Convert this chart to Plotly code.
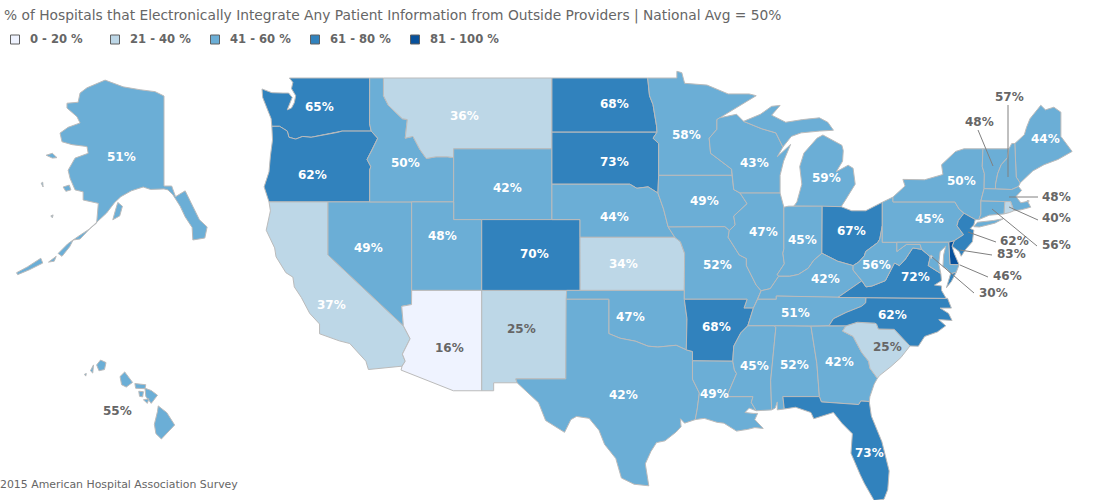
import plotly.graph_objects as go

WIDTH = 1112
HEIGHT = 500

TITLE = "% of Hospitals that Electronically Integrate Any Patient Information from Outside Providers | National Avg = 50%"
CREDIT = "2015 American Hospital Association Survey"

# legend bins
bin_labels = ["0 - 20 %", "21 - 40 %", "41 - 60 %", "61 - 80 %", "81 - 100 %"]
bin_tops = [20, 40, 60, 80, 100]
bin_colors = ["#EFF3FF", "#BDD7E7", "#6BAED6", "#3182BD", "#08519C"]
legend_left = [10.5, 110.5, 210.5, 310.5, 410.5]

states = ["WA", "OR", "CA", "NV", "ID", "MT", "WY", "UT", "AZ", "NM", "CO", "ND", "SD", "NE", "KS", "OK", "TX",
          "MN", "IA", "MO", "AR", "LA", "WI", "IL", "MI", "IN", "OH", "KY", "TN", "MS", "AL", "GA", "FL", "SC",
          "NC", "VA", "WV", "PA", "NY", "ME", "VT", "NH", "MA", "RI", "CT", "NJ", "DE", "MD", "DC", "AK", "HI"]
values = [65, 62, 37, 49, 50, 36, 42, 48, 16, 25, 70, 68, 73, 44, 34, 47, 42,
          58, 49, 52, 68, 49, 43, 47, 59, 45, 67, 42, 51, 45, 52, 42, 73, 25,
          62, 72, 56, 45, 50, 44, 48, 57, 48, 40, 56, 62, 83, 46, 30, 51, 55]

# where each state's label sits on the page
label_x = [319, 312, 331, 368, 405, 464, 507, 442, 449, 521, 534, 614, 614, 614, 623, 630, 623,
           686, 704, 717, 716, 714, 754, 763, 826, 802, 851, 825, 795, 754, 794, 839, 869, 887,
           892, 915, 876, 929, 961, 1045, 979, 1009, 1056, 1056, 1056, 1014, 1011, 1007, 993, 121, 117]
label_y = [107, 175, 305, 248, 163, 116, 188, 236, 348, 329, 254, 104, 162, 217, 264, 317, 395,
           135, 201, 265, 327, 394, 163, 232, 178, 240, 231, 279, 313, 366, 365, 362, 453, 347,
           315, 277, 265, 219, 181, 139, 122, 97, 197, 218, 245, 241, 254, 276, 293, 157, 411]
outside_labels = ["VT", "NH", "MA", "RI", "CT", "NJ", "DE", "MD", "DC", "HI"]

# x0, y0, x1, y1 of the connector lines for the small eastern states
leader_lines = [
    (1008, 105, 1008, 177), (978, 130, 993, 166), (1038, 197, 1009, 197), (1038, 220, 1009, 207),
    (1037, 246, 992, 209), (996, 242, 968, 232), (992, 255, 960, 250), (988, 277, 960, 265), (974, 293, 932, 257),
]

# state outlines as lon/lat rings
outlines = {
    "WA": [[(-117.03, 49), (-122.75, 49), (-122.5, 48.75), (-122.6, 48.4), (-122.3, 48), (-122.4, 47.6), (-122.6, 47.3),
            (-122.9, 47.2), (-122.55, 47.9), (-122.8, 48.15), (-123.2, 48.15), (-124, 48.17), (-124.7, 48.38),
            (-124.65, 47.9), (-124.2, 47), (-124.05, 46.7), (-124, 46.27), (-123.45, 46.27), (-123.2, 46.15), (-122.9, 46),
            (-122.78, 45.65), (-122.3, 45.55), (-121.8, 45.7), (-121.2, 45.65), (-120.6, 45.75), (-119.9, 45.85),
            (-119.3, 45.93), (-119, 46), (-116.92, 46), (-117.04, 46.42)]],
    "OR": [[(-124, 46.27), (-123.95, 45.5), (-124.1, 44.6), (-124.2, 43.7), (-124.55, 42.85), (-124.2, 42), (-120, 42),
            (-117.03, 42), (-117.03, 43.8), (-116.95, 44), (-117.22, 44.4), (-116.85, 44.95), (-116.46, 45.6), (-116.92, 46),
            (-119, 46), (-119.3, 45.93), (-119.9, 45.85), (-120.6, 45.75), (-121.2, 45.65), (-121.8, 45.7), (-122.3, 45.55),
            (-122.78, 45.65), (-122.9, 46), (-123.2, 46.15), (-123.45, 46.27)]],
    "CA": [[(-124.2, 42), (-124.1, 41.5), (-124.4, 40.4), (-123.8, 39.4), (-123.7, 38.9), (-123, 38), (-122.5, 37.75),
            (-122.4, 37.2), (-121.9, 36.6), (-121.3, 35.7), (-120.6, 35.1), (-120.6, 34.55), (-119.2, 34.15), (-118.45, 34),
            (-117.3, 33), (-117.12, 32.53), (-114.72, 32.72), (-114.5, 33), (-114.7, 33.4), (-114.15, 34.27), (-114.63, 35),
            (-120, 39), (-120, 42)]],
    "NV": [[(-120, 42), (-120, 39), (-114.63, 35), (-114.75, 36.1), (-114.05, 36.2), (-114.04, 37), (-114.04, 42)]],
    "ID": [[(-117.03, 49), (-116.05, 49), (-116.05, 48), (-115.7, 47.45), (-114.7, 46.7), (-114.35, 46.65), (-114.5, 45.6),
            (-113.95, 45.7), (-113.45, 44.95), (-113, 44.45), (-112.3, 44.55), (-111.5, 44.55), (-111.05, 44.5), (-111.05, 42),
            (-117.03, 42), (-117.03, 43.8), (-116.95, 44), (-117.22, 44.4), (-116.85, 44.95), (-116.46, 45.6), (-116.92, 46),
            (-117.04, 46.42)]],
    "MT": [[(-116.05, 49), (-104.05, 49), (-104.05, 45), (-111.05, 45), (-111.05, 44.5), (-111.5, 44.55), (-112.3, 44.55),
            (-113, 44.45), (-113.45, 44.95), (-113.95, 45.7), (-114.5, 45.6), (-114.35, 46.65), (-114.7, 46.7), (-115.7, 47.45),
            (-116.05, 48)]],
    "WY": [[(-111.05, 45), (-111.05, 41), (-104.05, 41), (-104.05, 45)]],
    "UT": [[(-114.04, 42), (-114.04, 37), (-109.05, 37), (-109.05, 41), (-111.05, 41), (-111.05, 42)]],
    "AZ": [[(-114.04, 37), (-114.05, 36.2), (-114.75, 36.1), (-114.63, 35), (-114.15, 34.27), (-114.7, 33.4), (-114.5, 33),
            (-114.72, 32.72), (-114.8, 32.5), (-111.07, 31.33), (-109.05, 31.33), (-109.05, 37)]],
    "NM": [[(-109.05, 37), (-109.05, 31.33), (-108.2, 31.33), (-108.2, 31.78), (-106.53, 31.78), (-106.62, 32),
            (-103.06, 32), (-103, 37)]],
    "CO": [[(-109.05, 41), (-109.05, 37), (-102.04, 37), (-102.05, 41)]],
    "ND": [[(-104.05, 49), (-97.23, 49), (-97.1, 48), (-96.85, 47.5), (-96.6, 46.3), (-96.56, 45.94), (-104.05, 45.94)]],
    "SD": [[(-104.05, 45.94), (-96.56, 45.94), (-96.85, 45.6), (-96.45, 45.3), (-96.45, 43.5), (-96.5, 42.5), (-97.2, 42.85),
            (-98, 42.77), (-98.5, 43), (-104.05, 43)]],
    "NE": [[(-104.05, 43), (-98.5, 43), (-98, 42.77), (-97.2, 42.85), (-96.5, 42.5), (-96.1, 41.6), (-95.77, 40.58), (-95.3, 40),
            (-102.05, 40), (-102.05, 41), (-104.05, 41)]],
    "KS": [[(-102.05, 40), (-95.3, 40), (-94.9, 39.75), (-94.6, 39.1), (-94.62, 37), (-102.04, 37)]],
    "OK": [[(-103, 37), (-94.62, 37), (-94.62, 36.5), (-94.43, 35.4), (-94.48, 33.64), (-95.2, 33.9), (-96.5, 33.8), (-97.2, 33.85),
            (-98.1, 34.13), (-99.2, 34.3), (-100, 34.56), (-100, 36.5), (-103.04, 36.5)]],
    "TX": [[(-103.04, 36.5), (-100, 36.5), (-100, 34.56), (-99.2, 34.3), (-98.1, 34.13), (-97.2, 33.85), (-96.5, 33.8), (-95.2, 33.9),
            (-94.48, 33.64), (-94.04, 33.55), (-94.04, 31.99), (-93.55, 31.2), (-93.7, 30.3), (-93.84, 29.7), (-94.6, 29.5), (-94.9, 29.75), (-94.85, 29.3),
            (-95.2, 29), (-96, 28.5), (-96.6, 28.4), (-97, 27.9), (-97.4, 27.2), (-97.15, 25.96), (-98.2, 26.05), (-99.1, 26.4), (-99.5, 27.5),
            (-100.3, 28.3), (-100.7, 29.1), (-101.4, 29.77), (-102.3, 29.88), (-102.7, 29.7), (-103.15, 28.98), (-104.5, 29.65),
            (-105, 30.65), (-106.53, 31.78), (-106.62, 32), (-103.06, 32)]],
    "MN": [[(-97.23, 49), (-95.15, 49), (-95.15, 49.38), (-94.8, 49.3), (-94.6, 48.7), (-93, 48.6), (-91.5, 48.1), (-90, 48.1),
            (-89.5, 48), (-92.1, 46.75), (-92.3, 46.65), (-92.3, 46.1), (-92.85, 45.6), (-92.75, 44.75), (-91.25, 43.85), (-91.22, 43.5),
            (-96.45, 43.5), (-96.45, 45.3), (-96.85, 45.6), (-96.56, 45.94), (-96.6, 46.3), (-96.85, 47.5), (-97.1, 48)]],
    "IA": [[(-96.45, 43.5), (-91.22, 43.5), (-91.1, 42.7), (-90.65, 42.5), (-90.15, 41.9), (-91.1, 41.2), (-91, 40.7), (-91.42, 40.38),
            (-91.73, 40.6), (-95.77, 40.58), (-96.1, 41.6), (-96.5, 42.5)]],
    "MO": [[(-95.77, 40.58), (-91.73, 40.6), (-91.42, 40.38), (-91.5, 40), (-90.7, 39), (-90.2, 38.8), (-90.2, 38.4), (-89.5, 37.3),
            (-89.15, 36.98), (-89.4, 36.5), (-89.7, 36), (-90.37, 36), (-90.15, 36.5), (-94.62, 36.5), (-94.62, 37), (-94.6, 39.1),
            (-94.9, 39.75), (-95.3, 40)]],
    "AR": [[(-94.62, 36.5), (-90.15, 36.5), (-90.37, 36), (-89.7, 36), (-90.1, 35), (-90.6, 34.6), (-91.1, 33.85), (-91.17, 33),
            (-94.04, 33.02), (-94.04, 33.55), (-94.48, 33.64), (-94.43, 35.4)]],
    "LA": [[(-94.04, 33.02), (-91.17, 33), (-91.05, 32.5), (-90.9, 32.3), (-91.6, 31), (-89.73, 31), (-89.85, 30.67), (-89.5, 30.2),
            (-90, 30.35), (-90.3, 30.1), (-89.7, 30.05), (-89.4, 30.05), (-89.6, 29.7), (-89, 29.2), (-89.6, 29.25), (-90.1, 29.15), (-90.9, 29.05),
            (-91.8, 29.5), (-92.3, 29.55), (-93.2, 29.77), (-93.84, 29.7), (-93.7, 30.3), (-93.55, 31.2), (-94.04, 31.99)]],
    "WI": [[(-92.1, 46.75), (-90.9, 46.95), (-90.4, 46.55), (-89.1, 46.13), (-88.1, 45.9), (-87.6, 45.1), (-88, 44.55), (-87.05, 45.25),
            (-87.55, 44.3), (-87.8, 43.5), (-87.8, 42.5), (-90.65, 42.5), (-91.1, 42.7), (-91.22, 43.5), (-91.25, 43.85), (-92.75, 44.75),
            (-92.85, 45.6), (-92.3, 46.1), (-92.3, 46.65)]],
    "IL": [[(-90.65, 42.5), (-87.8, 42.5), (-87.53, 41.7), (-87.53, 39.35), (-87.6, 39.1), (-87.5, 38.5), (-88, 37.9), (-87.9, 37.8),
            (-88.5, 37.1), (-89.15, 36.98), (-89.5, 37.3), (-90.2, 38.4), (-90.2, 38.8), (-90.7, 39), (-91.5, 40), (-91.42, 40.38),
            (-91, 40.7), (-91.1, 41.2), (-90.15, 41.9)]],
    "MI": [[(-90.4, 46.55), (-89.2, 46.95), (-88.4, 47.4), (-87.8, 47.45), (-88.4, 46.9), (-87.4, 46.5), (-86.2, 46.65), (-85, 46.75),
            (-84.4, 46.5), (-84, 46.05), (-85, 46), (-86.3, 45.9), (-87, 45.7), (-87.6, 45.1), (-88.1, 45.9), (-89.1, 46.13)],
           [(-84.75, 45.78), (-85.17, 45.6), (-86.1, 44.76), (-86.4, 44), (-86.25, 43), (-86.6, 42), (-86.82, 41.76), (-84.8, 41.76),
            (-83.45, 41.73), (-83.15, 42.1), (-82.45, 43), (-82.6, 43.9), (-82.95, 44.07), (-83.8, 43.7), (-83.35, 44.3), (-83.3, 44.9), (-83.4, 45.2)]],
    "IN": [[(-87.53, 41.7), (-87.2, 41.76), (-86.82, 41.76), (-84.8, 41.76), (-84.82, 39.1), (-85.4, 38.7), (-85.8, 38.25), (-86.5, 37.9),
            (-87.1, 37.8), (-87.9, 37.8), (-88, 37.9), (-87.5, 38.5), (-87.6, 39.1), (-87.53, 39.35)]],
    "OH": [[(-84.8, 41.76), (-83.45, 41.73), (-82.7, 41.5), (-81.7, 41.5), (-80.52, 41.98), (-80.52, 40.64), (-80.7, 39.9), (-80.85, 39.7),
            (-81.7, 39.2), (-81.8, 38.95), (-82.2, 38.6), (-82.6, 38.4), (-83.7, 38.65), (-84.3, 38.9), (-84.82, 39.1)]],
    "KY": [[(-89.4, 36.5), (-89.15, 36.98), (-88.5, 37.1), (-87.9, 37.8), (-87.1, 37.8), (-86.5, 37.9), (-85.8, 38.25), (-85.4, 38.7),
            (-84.82, 39.1), (-84.3, 38.9), (-83.7, 38.65), (-82.6, 38.4), (-82.6, 38.15), (-81.97, 37.54), (-83.68, 36.6), (-88.07, 36.68),
            (-88.07, 36.5)]],
    "TN": [[(-90.1, 35), (-89.7, 36), (-89.4, 36.5), (-88.07, 36.5), (-88.07, 36.68), (-83.68, 36.6), (-81.68, 36.59), (-81.7, 36.3),
            (-82, 36.1), (-83.1, 35.75), (-84, 35.4), (-84.32, 35), (-85.6, 34.98), (-88.2, 35)]],
    "MS": [[(-91.17, 33), (-91.1, 33.85), (-90.6, 34.6), (-90.1, 35), (-88.2, 35), (-88.1, 34.9), (-88.47, 31.9), (-88.4, 30.25),
            (-89.5, 30.2), (-89.85, 30.67), (-89.73, 31), (-91.6, 31), (-90.9, 32.3), (-91.05, 32.5)]],
    "AL": [[(-88.2, 35), (-85.6, 34.98), (-85.18, 32.87), (-85.05, 31.5), (-85, 31), (-87.6, 31), (-87.5, 30.3), (-88, 30.25), (-88, 30.7),
            (-88.15, 30.35), (-88.4, 30.25), (-88.47, 31.9), (-88.1, 34.9)]],
    "GA": [[(-85.6, 34.98), (-84.32, 35), (-83.1, 35), (-83.35, 34.7), (-82.6, 34.4), (-82, 33.5), (-81.5, 33), (-81.4, 32.6), (-80.87, 32.03),
            (-81.1, 31.7), (-81.4, 31), (-81.45, 30.72), (-82.05, 30.75), (-82.2, 30.55), (-84.86, 30.7), (-85, 31), (-85.05, 31.5), (-85.18, 32.87)]],
    "FL": [[(-87.6, 31), (-85, 31), (-84.86, 30.7), (-82.2, 30.55), (-82.05, 30.75), (-81.45, 30.72), (-81.3, 29.9), (-80.55, 28.45), (-80.03, 26.8),
            (-80.13, 25.75), (-80.4, 25.2), (-81.1, 25.13), (-81.8, 26.1), (-82.1, 26.6), (-82.75, 27.8), (-82.65, 28.9), (-83.4, 29.5), (-84, 30.1),
            (-85.4, 29.75), (-85.6, 30.1), (-86.7, 30.4), (-87.5, 30.3)]],
    "SC": [[(-83.1, 35), (-82.3, 35.2), (-81.05, 35.15), (-80.93, 35.1), (-80.8, 34.82), (-79.67, 34.8), (-78.55, 33.86), (-79.2, 33.2), (-79.9, 32.7),
            (-80.7, 32.2), (-80.87, 32.03), (-81.4, 32.6), (-81.5, 33), (-82, 33.5), (-82.6, 34.4), (-83.35, 34.7)]],
    "NC": [[(-84.32, 35), (-84, 35.4), (-83.1, 35.75), (-82, 36.1), (-81.7, 36.3), (-81.68, 36.59), (-75.87, 36.55), (-75.6, 36), (-76.4, 36), (-75.8, 35.7),
            (-75.55, 35.3), (-76.5, 35.35), (-76, 35), (-76.6, 34.65), (-77.5, 34.4), (-77.95, 33.85), (-78.55, 33.86), (-79.67, 34.8), (-80.8, 34.82),
            (-80.93, 35.1), (-81.05, 35.15), (-82.3, 35.2), (-83.1, 35)]],
    "VA": [[(-83.68, 36.6), (-81.97, 37.54), (-81.68, 37.2), (-81.25, 37.25), (-80.3, 37.55), (-79.65, 38.55), (-79.3, 38.4), (-78.87, 38.77),
            (-78.35, 39.4), (-77.72, 39.32), (-77.1, 38.9), (-77.25, 38.4), (-76.35, 37.95), (-76.3, 37.55), (-76.8, 37.3), (-76.3, 37.25), (-76.3, 37), (-75.97, 36.55), (-81.68, 36.59)],
           [(-75.95, 37.15), (-75.65, 37.95), (-75.25, 38.03), (-75.6, 37.5)]],
    "WV": [[(-82.6, 38.4), (-82.2, 38.6), (-81.8, 38.95), (-81.7, 39.2), (-80.85, 39.7), (-80.7, 39.9), (-80.52, 40.64), (-80.52, 39.72), (-79.48, 39.72),
            (-79.48, 39.2), (-78.8, 39.6), (-78.4, 39.62), (-77.83, 39.6), (-77.72, 39.32), (-78.35, 39.4), (-78.87, 38.77), (-79.3, 38.4), (-79.65, 38.55),
            (-80.3, 37.55), (-81.25, 37.25), (-81.68, 37.2), (-81.97, 37.54), (-82.6, 38.15)]],
    "PA": [[(-80.52, 41.98), (-79.76, 42.27), (-79.76, 42), (-75.35, 42), (-75.05, 41.6), (-74.7, 41.36), (-75.1, 40.95), (-75.2, 40.65), (-74.73, 40.15),
            (-75.4, 39.8), (-75.79, 39.72), (-80.52, 39.72)]],
    "NY": [[(-79.76, 42.27), (-78.9, 42.9), (-79.05, 43.27), (-77.5, 43.25), (-76.2, 43.55), (-76.3, 44.1), (-75.3, 44.85), (-74.7, 45), (-73.35, 45),
            (-73.4, 44), (-73.25, 43.6), (-73.27, 42.75), (-73.5, 42.05), (-73.5, 41.3), (-73.65, 41), (-73.9, 41), (-74.7, 41.36), (-75.05, 41.6),
            (-75.35, 42), (-79.76, 42)],
           [(-74, 40.6), (-73.75, 40.85), (-72.6, 40.95), (-71.9, 41.05), (-72.5, 40.8), (-73.6, 40.58)]],
    "ME": [[(-71.08, 45.3), (-70.4, 45.8), (-70.25, 46.2), (-70, 46.7), (-69.23, 47.46), (-68.9, 47.2), (-68.3, 47.35), (-67.8, 47.07), (-67.8, 45.7),
            (-67.45, 45.3), (-67, 44.85), (-68, 44.4), (-69, 44.1), (-69.8, 43.75), (-70.7, 43.07), (-70.98, 43.4)]],
    "VT": [[(-73.35, 45), (-71.5, 45), (-71.6, 44.5), (-72.05, 44.1), (-72.3, 43.6), (-72.45, 43), (-72.46, 42.73), (-73.27, 42.75), (-73.25, 43.6), (-73.4, 44)]],
    "NH": [[(-71.5, 45), (-71.3, 45.3), (-71.08, 45.3), (-70.98, 43.4), (-70.7, 43.07), (-70.82, 42.87), (-71.3, 42.7), (-72.46, 42.73), (-72.45, 43),
            (-72.3, 43.6), (-72.05, 44.1), (-71.6, 44.5)]],
    "MA": [[(-73.5, 42.05), (-73.27, 42.75), (-72.46, 42.73), (-71.3, 42.7), (-70.82, 42.87), (-70.6, 42.65), (-71, 42.3), (-70.65, 41.95), (-70.05, 42.05),
            (-70.2, 42.08), (-69.95, 41.7), (-70.65, 41.55), (-71.15, 41.5), (-71.38, 42.02), (-71.8, 42.02)]],
    "RI": [[(-71.8, 42.02), (-71.38, 42.02), (-71.15, 41.5), (-71.45, 41.4), (-71.85, 41.32)]],
    "CT": [[(-73.5, 42.05), (-71.8, 42.02), (-71.85, 41.32), (-72.9, 41.25), (-73.65, 41), (-73.5, 41.3)]],
    "NJ": [[(-74.7, 41.36), (-73.9, 41), (-74, 40.7), (-74.25, 40.5), (-74, 40.4), (-74.1, 39.75), (-74.6, 39.3), (-74.9, 38.93), (-75.05, 39.2), (-75.55, 39.5),
            (-75.4, 39.8), (-74.73, 40.15), (-75.2, 40.65), (-75.1, 40.95)]],
    "DE": [[(-75.79, 39.72), (-75.4, 39.8), (-75.55, 39.5), (-75.4, 39.1), (-75.05, 38.45), (-75.7, 38.46)]],
    "MD": [[(-79.48, 39.72), (-75.79, 39.72), (-75.7, 38.46), (-75.05, 38.45), (-75.25, 38.03), (-75.65, 37.95), (-75.9, 38.2), (-76.2, 38.35), (-76.15, 39),
            (-76, 39.5), (-76.4, 39.2), (-76.5, 38.5), (-76.35, 37.95), (-77.25, 38.4), (-77.1, 38.9), (-77.72, 39.32), (-77.83, 39.6), (-78.4, 39.62), (-78.8, 39.6),
            (-79.48, 39.2)]],
    "DC": [[(-77.12, 38.93), (-77.04, 39), (-76.91, 38.9), (-77.04, 38.79)]],
}

alaska_outline = [
    [(-141, 69.65), (-143.3, 70.1), (-147.2, 70.3), (-151.6, 70.6), (-156.3, 71.3), (-161, 70.5), (-162.8, 69.96), (-163.3, 69), (-166.2, 68.9), (-166.2, 68.4),
     (-163.6, 67.5), (-162.8, 66.85), (-165.9, 66.4), (-168, 65.8), (-167.5, 64.9), (-164.9, 64.6), (-161, 64.4), (-160.7, 63.7), (-164.1, 63.2), (-165.9, 61.95),
     (-165.4, 61.1), (-164.1, 59.9), (-162, 59.7), (-162, 58.85), (-159.7, 58.65), (-158.06, 58.5), (-158.5, 56.46), (-160.5, 55.8), (-162.8, 55.2), (-164.6, 54.7),
     (-162.8, 54.8), (-160.2, 55.9), (-155.9, 57.5), (-153.8, 58.6), (-152.2, 59.2), (-149.5, 59.8), (-148, 60.0),
     (-146.4, 60.2), (-144.5, 59.95), (-141, 60), (-140, 59.9), (-138.7, 59.4), (-136.8, 58.2), (-135.5, 57.1), (-133.7, 56), (-133.5, 54.7), (-130.4, 54.9),
     (-129.8, 56.05), (-131.8, 56.8), (-134, 58.5), (-135.5, 59.8), (-138, 59.2), (-139, 60.3), (-141, 60.3)],
    [(-171.6, 63.5), (-170, 63.7), (-168.8, 63.25), (-170, 63.2)],
    [(-167.2, 60.2), (-165.6, 60.4), (-165.2, 59.9), (-166.5, 59.75)],
    [(-154.3, 56.8), (-152.5, 57.2), (-151.8, 58.2), (-153, 58.6), (-153.6, 57.8)],
    [(-164.6, 54.7), (-166, 54.3), (-168.5, 53.3), (-167.5, 53), (-165.5, 54)],
    [(-171, 52.4), (-169, 53), (-169.5, 52.5)],
    [(-179.3, 51.3), (-176.5, 51.9), (-173, 52.8), (-172.5, 52.3), (-176, 51.6), (-179, 51.1)],
    [(-170.4, 57.2), (-169.8, 57.3), (-170, 57)],
    [(-172.9, 60.6), (-172.5, 60.7), (-172.4, 60.2)],
]

hawaii_outline = [
    [(-155.85, 20.29), (-155.3, 20), (-154.8, 19.47), (-155.65, 18.87), (-156, 19.1), (-156.1, 19.5), (-155.9, 20.05)],
    [(-156.7, 21.05), (-156.3, 20.95), (-155.9, 20.75), (-156.3, 20.4), (-156.65, 20.7)],
    [(-157.35, 21.25), (-156.65, 21.2), (-156.7, 21.03), (-157.3, 21.05)],
    [(-157.1, 20.92), (-156.8, 20.9), (-156.85, 20.68), (-157.05, 20.7)],
    [(-156.8, 20.55), (-156.45, 20.6), (-156.55, 20.4)],
    [(-158.3, 21.55), (-158, 21.75), (-157.5, 21.3), (-157.9, 21.1), (-158.2, 21.2)],
    [(-159.8, 22.05), (-159.55, 22.26), (-159.2, 22.15), (-159.3, 21.85), (-159.65, 21.8)],
    [(-160.2, 21.8), (-160, 22.05), (-160.05, 21.7)],
    [(-160.58, 21.65), (-160.46, 21.68), (-160.5, 21.57)],
]
outlines["AK"] = alaska_outline
outlines["HI"] = hawaii_outline

BORDER = "#bbbbbb"
TEXT_GREY = "#666666"


def bin_color(value):
    for top, color in zip(bin_tops, bin_colors):
        if value <= top:
            return color
    return bin_colors[-1]


def ring_xy(rings):
    xs, ys = [], []
    for ring in rings:
        xs += [p[0] for p in ring] + [ring[0][0], None]
        ys += [p[1] for p in ring] + [ring[0][1], None]
    return xs, ys


fig = go.Figure()

for st, val in zip(states, values):
    xs, ys = ring_xy(outlines[st])
    axes = {"AK": ("x2", "y2"), "HI": ("x3", "y3")}.get(st, ("x", "y"))
    fig.add_trace(go.Scatter(
        x=xs, y=ys, xaxis=axes[0], yaxis=axes[1], mode="lines", fill="toself",
        fillcolor=bin_color(val), line=dict(color=BORDER, width=1),
        name=st, text=f"{st}: {val}%", hoverinfo="text", showlegend=False,
    ))

# legend row is placed by hand, plotly's own legend can't get this tight
for lab, col, left in zip(bin_labels, bin_colors, legend_left):
    fig.add_shape(type="rect", xref="paper", yref="paper", x0=left / WIDTH, x1=(left + 9) / WIDTH,
                  y0=1 - 44 / HEIGHT, y1=1 - 35 / HEIGHT, fillcolor=col, line=dict(color="#606060", width=1))
    fig.add_annotation(x=(left + 17.5) / WIDTH, y=1 - 39.5 / HEIGHT, xref="paper", yref="paper", xanchor="left",
                       yanchor="middle", showarrow=False, text=f"<b>{lab}</b>",
                       font=dict(family="DejaVu Sans", size=11.6, color=TEXT_GREY))

for st, val, px, py in zip(states, values, label_x, label_y):
    is_dark = st in outside_labels or val <= 25
    fig.add_annotation(
        x=px / WIDTH, y=1 - py / HEIGHT, xref="paper", yref="paper", showarrow=False, xanchor="center", yanchor="middle",
        text=f"<b>{val}%</b>", font=dict(family="DejaVu Sans", size=12, color=TEXT_GREY if is_dark else "#ffffff"),
    )

for x0, y0, x1, y1 in leader_lines:
    fig.add_shape(type="line", xref="paper", yref="paper", x0=x0 / WIDTH, x1=x1 / WIDTH,
                  y0=1 - y0 / HEIGHT, y1=1 - y1 / HEIGHT, line=dict(color="#808080", width=1))

fig.add_annotation(x=-2 / WIDTH, y=1 - 484.5 / HEIGHT, xref="paper", yref="paper", xanchor="left", yanchor="middle", showarrow=False,
                   text=CREDIT, font=dict(family="DejaVu Sans", size=10.9, color="#666666"))


def hidden_axis(lo, hi, **kw):
    return dict(range=[lo, hi], visible=False, fixedrange=True, domain=[0, 1], **kw)


# lower 48: 14.04 px per degree lon, 17.7 px per degree lat
fig.update_layout(
    width=WIDTH, height=HEIGHT, margin=dict(l=0, r=0, t=0, b=0),
    paper_bgcolor="white", plot_bgcolor="white", showlegend=False,
    font=dict(family="DejaVu Sans", color=TEXT_GREY),
    title=dict(text=TITLE, x=4 / WIDTH, xanchor="left", y=1 - 15 / HEIGHT, yanchor="middle",
               font=dict(family="DejaVu Sans", size=13.8, color="#666666")),
    xaxis=hidden_axis(-124.7 - 262 / 14.04, -124.7 + 850 / 14.04),
    yaxis=hidden_axis(49 - 422 / 17.7, 49 + 78 / 17.7),
    xaxis2=hidden_axis(-141 - 164 / 3.85, -141 + 948 / 3.85, overlaying="x"),
    yaxis2=hidden_axis(69.65 - 404 / 9.63, 69.65 + 96 / 9.63, overlaying="y"),
    xaxis3=hidden_axis(-155.45 - 164.5 / 15.6, -155.45 + 947.5 / 15.6, overlaying="x"),
    yaxis3=hidden_axis(19.6 - 78 / 23.3, 19.6 + 422 / 23.3, overlaying="y"),
)

fig.write_html("out.html", config={"displayModeBar": False}, post_script="document.body.style.margin='0';")
